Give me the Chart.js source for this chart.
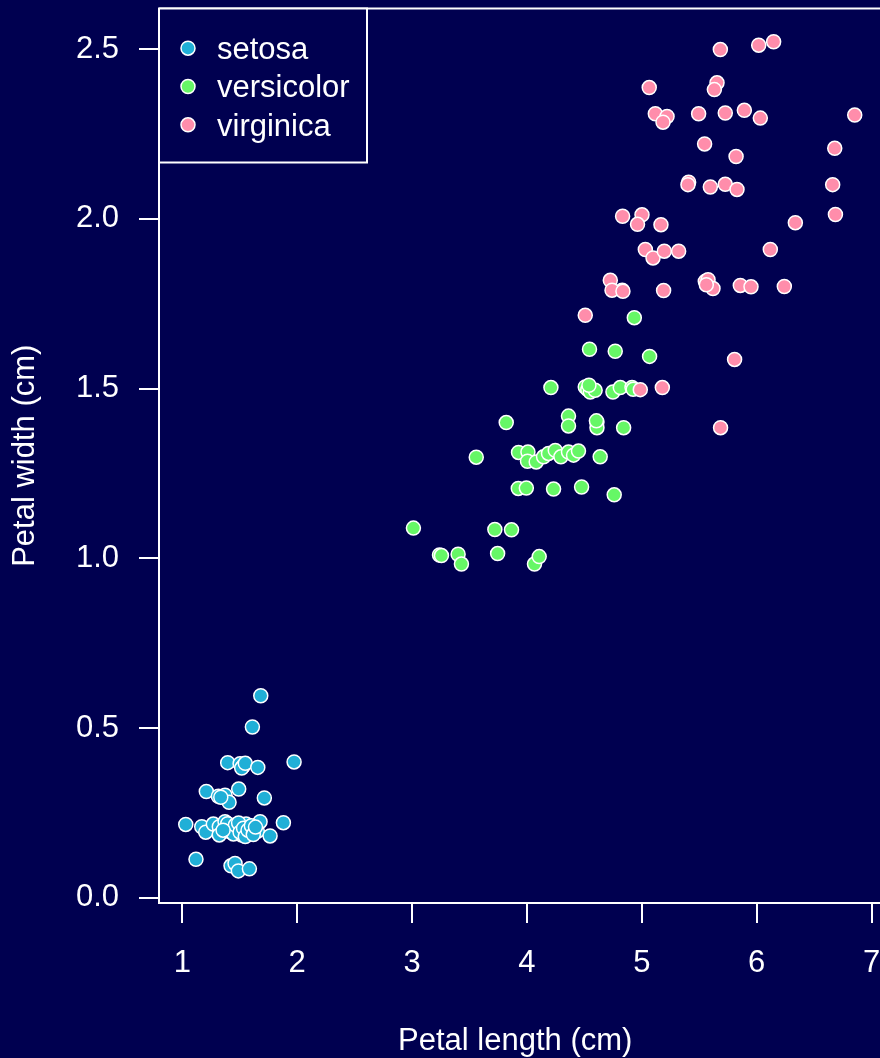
<!DOCTYPE html>
<html>
<head>
<meta charset="utf-8">
<script src="https://cdn.jsdelivr.net/npm/chart.js@4"></script>
<style>
  html, body { margin: 0; padding: 0; background: #000050; overflow: hidden; }
  #wrap { width: 880px; height: 1058px; position: relative; }
</style>
</head>
<body>
<div id="wrap"><canvas id="myChart"></canvas></div>
<script>
// iris petal measurements (points are slightly jittered in the original)
const species = ["setosa", "versicolor", "virginica"];
const colors = ["#20AFD7", "#66F766", "#FF8DAB"];

const setosaLength = [1.683, 1.610,
  1.395, 1.503, 1.531, 1.517, 1.548, 1.657, 1.973,
  1.209, 1.314, 1.372, 1.407, 1.491, 1.714, 1.335,
  1.030, 1.169, 1.204, 1.270, 1.322, 1.322, 1.372, 1.430, 1.474, 1.517,
  1.555, 1.590, 1.653, 1.677, 1.764, 1.880, 1.395, 1.412, 1.445, 1.462,
  1.490, 1.503, 1.533, 1.548, 1.572, 1.601, 1.618, 1.637, 1.355,
  1.119, 1.424, 1.459, 1.488, 1.584];
const setosaWidth = [0.595, 0.503,
  0.398, 0.395, 0.388, 0.382, 0.396, 0.384, 0.400,
  0.313, 0.299, 0.302, 0.281, 0.320, 0.294, 0.296,
  0.216, 0.209, 0.193, 0.217, 0.209, 0.185, 0.224, 0.211, 0.201, 0.185,
  0.217, 0.190, 0.196, 0.224, 0.182, 0.221, 0.218, 0.195, 0.188, 0.214,
  0.220, 0.193, 0.205, 0.180, 0.199, 0.212, 0.186, 0.208, 0.199,
  0.113, 0.094, 0.101, 0.079, 0.085];

const versicolorLength = [3.012, 3.239, 3.256, 3.401, 3.430, 3.721, 3.866, 3.745, 4.066, 4.107,
  3.925, 3.995, 4.232, 4.476, 4.760,
  3.559, 3.927, 4.009, 4.005, 4.081, 4.145, 4.188, 4.247, 4.296, 4.362, 4.406, 4.449, 4.638,
  3.820, 4.362, 4.362, 4.610, 4.610, 4.842, 4.605,
  4.209, 4.508, 4.530, 4.552, 4.594, 4.749, 4.813, 4.915, 4.540, 4.925,
  4.545, 4.769, 5.068,
  4.935, 4.830];
const versicolorWidth = [1.089, 1.010, 1.008, 1.012, 0.983, 1.085, 1.084, 1.014, 0.983, 1.005,
  1.206, 1.207, 1.204, 1.210, 1.187,
  1.298, 1.312, 1.313, 1.286, 1.284, 1.299, 1.309, 1.318, 1.299, 1.313, 1.304, 1.316, 1.299,
  1.400, 1.419, 1.390, 1.402, 1.385, 1.385, 1.405,
  1.503, 1.505, 1.497, 1.490, 1.495, 1.490, 1.503, 1.503, 1.510, 1.498,
  1.616, 1.610, 1.595,
  1.709, 1.790];

const virginicaLength = [5.684, 6.018, 6.148,
  5.065, 5.655, 5.632,
  5.118, 5.220, 5.185, 5.495, 5.727, 5.893, 6.032, 6.854,
  5.547, 5.821, 6.680,
  5.408, 5.402, 5.597, 5.727, 5.829, 6.662,
  4.833, 5.002, 4.963, 5.167, 6.337, 6.686,
  5.031, 5.098, 5.196, 5.321, 6.119,
  4.726, 4.741, 4.836, 5.190, 5.553, 5.577, 5.620, 5.858, 5.951, 6.241, 5.562,
  4.508, 5.808, 4.987, 5.179, 5.686];
const virginicaWidth = [2.499, 2.512, 2.522,
  2.387, 2.401, 2.381,
  2.310, 2.302, 2.285, 2.310, 2.312, 2.320, 2.297, 2.306,
  2.221, 2.184, 2.208,
  2.108, 2.101, 2.094, 2.102, 2.087, 2.101,
  2.008, 2.012, 1.984, 1.983, 1.989, 2.013,
  1.910, 1.885, 1.905, 1.905, 1.910,
  1.819, 1.790, 1.787, 1.789, 1.816, 1.821, 1.795, 1.804, 1.800, 1.801, 1.806,
  1.716, 1.586, 1.497, 1.503, 1.385];

const xTicks = [1, 2, 3, 4, 5, 6, 7];
const yTicks = [0, 0.5, 1, 1.5, 2, 2.5];
const yTickLabels = ["0.0", "0.5", "1.0", "1.5", "2.0", "2.5"];

const BG = "#000050";

function pairs(xs, ys) {
  return xs.map((x, i) => ({ x: x, y: ys[i] }));
}

const lengths = [setosaLength, versicolorLength, virginicaLength];
const widths = [setosaWidth, versicolorWidth, virginicaWidth];

const data = {
  datasets: species.map((name, i) => ({
    label: name,
    data: pairs(lengths[i], widths[i]),
    backgroundColor: colors[i],
    borderColor: "#ffffff",
    borderWidth: 1.5,
    pointRadius: 7,
    order: 2 - i,
  })),
};

// no label padding around the plot box, R style
function noPadding(scale) {
  scale.paddingLeft = 0;
  scale.paddingRight = 0;
  scale.paddingTop = 0;
  scale.paddingBottom = 0;
}

// background, top/bottom edges of the box and the legend
const frame = {
  id: "frame",
  beforeDraw(chart) {
    const ctx = chart.ctx;
    ctx.save();
    ctx.fillStyle = BG;
    ctx.fillRect(0, 0, chart.width, chart.height);
    ctx.restore();
  },
  afterDraw(chart) {
    const ctx = chart.ctx;
    const a = chart.chartArea;
    ctx.save();
    ctx.strokeStyle = "#ffffff";
    ctx.lineWidth = 2;
    ctx.beginPath();
    ctx.moveTo(a.left, a.top);
    ctx.lineTo(chart.width + 5, a.top);
    ctx.moveTo(a.right - 1, a.bottom);
    ctx.lineTo(chart.width + 5, a.bottom);
    ctx.stroke();

    // legend
    ctx.fillStyle = BG;
    ctx.fillRect(a.left, a.top, 208, 154);
    ctx.strokeRect(a.left, a.top, 208, 154);
    ctx.font = "31px 'Liberation Sans', Arial, sans-serif";
    ctx.textBaseline = "alphabetic";
    chart.data.datasets.forEach((ds, i) => {
      const cy = a.top + 39.7 + i * 38.3;
      ctx.beginPath();
      ctx.arc(188, cy, 7, 0, Math.PI * 2);
      ctx.fillStyle = ds.backgroundColor;
      ctx.fill();
      ctx.lineWidth = 1.5;
      ctx.stroke();
      ctx.fillStyle = "#ffffff";
      ctx.fillText(ds.label, 217, cy + 10.8);
    });
    ctx.restore();
  },
};

Chart.defaults.font.family = "'Liberation Sans', Arial, sans-serif";
Chart.defaults.font.size = 31;
Chart.defaults.color = "#ffffff";

const config = {
  type: "scatter",
  data: data,
  options: {
    responsive: true,
    maintainAspectRatio: false,
    animation: false,
    layout: { padding: { top: 8, right: 0, left: 0, bottom: 0 } },
    plugins: {
      legend: { display: false },
      tooltip: { enabled: false },
    },
    scales: {
      x: {
        type: "linear",
        min: 0.797,
        max: 7.0,
        afterBuildTicks(scale) {
          scale.ticks = xTicks.map((v) => ({ value: v }));
        },
        afterFit(scale) {
          scale.height = 155;
          noPadding(scale);
        },
        ticks: {
          autoSkip: false,
          maxRotation: 0,
          padding: 22,
          callback: (v) => String(v),
        },
        grid: { drawOnChartArea: false, drawTicks: true, tickLength: 20, color: "#ffffff", lineWidth: 2 },
        border: { display: true, color: "#ffffff", width: 2 },
        title: { display: true, text: "Petal length (cm)", padding: { top: 0, bottom: -2 } },
      },
      y: {
        type: "linear",
        min: -0.0156,
        max: 2.62,
        afterBuildTicks(scale) {
          scale.ticks = yTicks.map((v) => ({ value: v }));
        },
        afterFit(scale) {
          scale.width = 159;
          noPadding(scale);
        },
        ticks: {
          autoSkip: false,
          padding: 20,
          callback: (v, i) => yTickLabels[i],
        },
        grid: { drawOnChartArea: false, drawTicks: true, tickLength: 20, color: "#ffffff", lineWidth: 2 },
        border: { display: true, color: "#ffffff", width: 2 },
        title: { display: true, text: "Petal width (cm)", padding: { top: 7, bottom: 0 } },
      },
    },
  },
  plugins: [frame],
};

const myChart = new Chart(document.getElementById("myChart"), config);
</script>
</body>
</html>
